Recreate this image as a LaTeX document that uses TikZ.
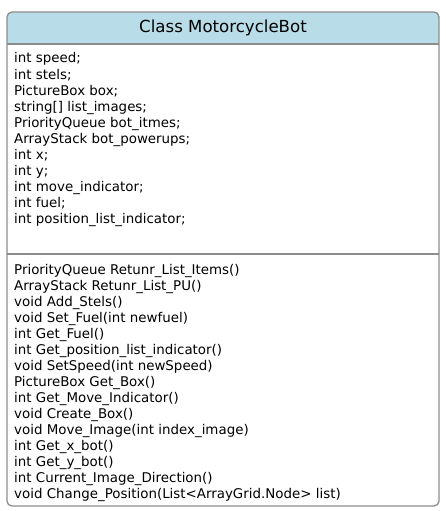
\documentclass[tikz,border=0pt]{standalone}
\usepackage{fontspec}
\setmainfont{DejaVu Sans}
\definecolor{hdr}{HTML}{B8DDE8}
\definecolor{frame}{HTML}{8C8C8C}
\begin{document}
\begin{tikzpicture}[x=1pt,y=-1pt,
  line/.style={draw=frame,line width=1.3pt},
  txt/.style={anchor=base west,inner sep=0pt,font=\fontsize{13.4}{16}\selectfont},
  title/.style={inner sep=0pt,font=\fontsize{16.6}{19}\selectfont}]
\useasboundingbox (0,0) rectangle (446,511);
\begin{scope}
\clip[rounded corners=5pt] (7,12) rectangle (439,506);
\fill[hdr] (7,12) rectangle (439,44);
\end{scope}
\coordinate (s1l) at (7,44);
\coordinate (s1r) at (439,44);
\coordinate (s2l) at (7,254);
\coordinate (s2r) at (439,254);
\draw[line] (s1l) -- (s1r);
\draw[line] (s2l) -- (s2r);
\draw[line,rounded corners=5pt] (7,12) rectangle (439,506);
\node[title] (head) at (223,28) {Class MotorcycleBot};
\foreach \t [count=\i from 0] in {int speed;,
int stels;,
PictureBox box;,
string[] list\_images;,
PriorityQueue bot\_itmes;,
ArrayStack bot\_powerups;,
int x;,
int y;,
int move\_indicator;,
int fuel;,
int position\_list\_indicator;}
  \node[txt] (a\i) at (14,63+16*\i) {\t};
\foreach \t [count=\i from 0] in {PriorityQueue Retunr\_List\_Items(),
ArrayStack Retunr\_List\_PU(),
void Add\_Stels(),
void Set\_Fuel(int newfuel),
int Get\_Fuel(),
int Get\_position\_list\_indicator(),
void SetSpeed(int newSpeed),
PictureBox Get\_Box(),
int Get\_Move\_Indicator(),
void Create\_Box(),
void Move\_Image(int index\_image),
int Get\_x\_bot(),
int Get\_y\_bot(),
int Current\_Image\_Direction(),
void Change\_Position(List<ArrayGrid.Node> list)}
  \node[txt] (m\i) at (14,274+16*\i) {\t};
\end{tikzpicture}
\end{document}
